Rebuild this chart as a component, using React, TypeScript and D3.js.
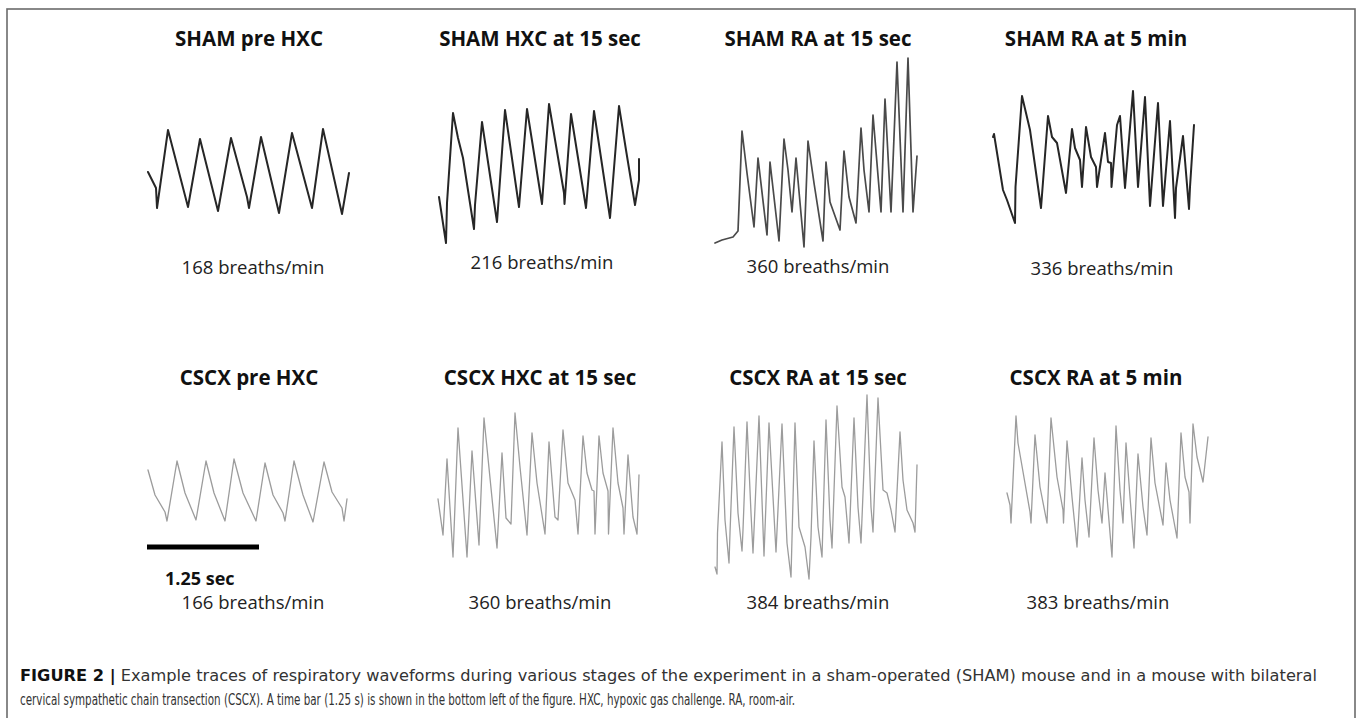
import React from "react";
import * as d3 from "d3";

type Pt = [number, number];

// time (arb. units) , amplitude (arb. units)
const shamPre: Pt[] = [[8,78],[16,62],[17,42],[28,120],[48,43],[60,111],[78,39],[91,112],[107,53],[109,42],[121,113],[139,37],[152,117],[172,42],[183,121],[202,36],[209,77]];
const shamHxc: Pt[] = [[9,53],[16,7],[17,47],[23,137],[28,112],[33,92],[44,21],[45,45],[52,128],[67,28],[75,140],[89,43],[97,141],[112,46],[119,146],[134,57],[134.5,46],[141,136],[156,42],[164,139],[180,32],[189,144],[196,100],[205,45],[209,70],[209,91]];
const shamRa15: Pt[] = [[10,7],[17,10],[28,13],[33,19],[37,119],[42,77],[49,23],[53,92],[62,15],[65,88],[74,9],[79,111],[83,80],[87,38],[91,92],[99,3],[103,109],[109,67],[118,9],[121,88],[125,48],[135,20],[139,99],[144,53],[151,27],[156,122],[159,80],[164,38],[168,135],[176,38],[180,151],[186,38],[192,188],[198,38],[203,192],[208,38],[212,94]];
const shamRa5: Pt[] = [[8,113],[9,116],[18,60],[22,50],[30,27],[30.5,63],[37,154],[45,120],[56,42],[63,134],[67,113],[72,107],[81,57],[87,121],[90,102],[95,90],[97,63],[101,123],[106,93],[111,83],[112,63],[120,117],[123,88],[126,87],[126.5,63],[132,125],[135,134],[140,62],[148,159],[153,63],[160,153],[165,44],[173,147],[178,44],[185,129],[190,32],[191,62],[198,114],[204,41],[205,63],[209,125]];
const cscxPre: Pt[] = [[8,120],[15,95],[25,78],[27,69],[37,129],[45,97],[56,70],[66,129],[74,97],[85,69],[94,131],[103,97],[116,69],[125,127],[133,95],[143,77],[145,69],[154,129],[163,95],[173,68],[184,128],[192,98],[202,82],[204,69],[207,91]];
const cscxHxc: Pt[] = [[8,91],[13,55],[17,131],[23,33],[28,162],[37,33],[42,139],[49,45],[54,172],[67,42],[72,137],[76,72],[81,66],[85,177],[90,123],[97,55],[102,157],[107,107],[115,56],[119,148],[125,73],[128,70],[133,160],[138,107],[145,90],[148,56],[153,154],[157,117],[162,100],[164,99],[165,56],[169,154],[173,117],[178,99],[178.5,56],[183,162],[188,107],[193,82],[194,56],[198,135],[203,73],[207,56],[209,115]];
const cscxRa15: Pt[] = [[10,23],[12,16],[12.5,57],[17,148],[20,70],[24,27],[25,57],[29,163],[33,77],[37,39],[38,60],[42,168],[46,77],[48,37],[54,174],[59,34],[64,167],[71,38],[77,166],[82,47],[86,13],[90,167],[94,63],[100,43],[104,11],[106,53],[109,149],[113,63],[117,33],[121,170],[125,70],[127,42],[132,184],[137,103],[140,93],[144,47],[149,172],[153,83],[156,47],[162,195],[166,83],[168,58],[173,192],[178,100],[182,97],[186,80],[190,58],[195,158],[198,110],[202,80],[208,67],[210,58],[212,125]];
const cscxRa5: Pt[] = [[22,97],[25,85],[26,67],[31,174],[33,147],[45,78],[46,67],[50,155],[55,103],[62,67],[66,172],[72,113],[78,80],[78.5,67],[82,149],[87,93],[92,43],[97,132],[100,90],[104,53],[109,152],[113,100],[117,67],[120,117],[127,33],[131,164],[135,100],[138,67],[141,147],[145,93],[149,42],[153,136],[158,83],[162,55],[166,152],[170,107],[178,65],[181,127],[185,90],[192,52],[196,157],[200,113],[204,98],[205,67],[208,166],[212,133],[218,108],[223,153]];

const titles = ["SHAM pre HXC","SHAM HXC at 15 sec","SHAM RA at 15 sec","SHAM RA at 5 min","CSCX pre HXC","CSCX HXC at 15 sec","CSCX RA at 15 sec","CSCX RA at 5 min"];
const rates = ["168 breaths/min","216 breaths/min","360 breaths/min","336 breaths/min","166 breaths/min","360 breaths/min","384 breaths/min","383 breaths/min"];
const traces = [shamPre, shamHxc, shamRa15, shamRa5, cscxPre, cscxHxc, cscxRa15, cscxRa5];
const scaleBarSeconds = 1.25;

const W = 1357, H = 718;
const colLeft = [140, 430, 705, 985];
const titleX = [249, 540, 818, 1096];
const rateX = [253, 542, 818, 1102, 253, 540, 818, 1098];
const rateY = [274, 269, 273, 275, 609, 609, 609, 609];
const rowBase = [250, 590];
const rowTitleY = [46, 385];

export default function App() {
  const captionFont = "'Liberation Sans Narrow','DejaVu Sans Condensed','Arial Narrow','Liberation Sans',sans-serif";
  const labelFont = "'Open Sans','Noto Sans',sans-serif";
  const pxPerSec = 112 / 1.25;
  const barScale = d3.scaleLinear().domain([0, scaleBarSeconds]).range([147, 147 + scaleBarSeconds * pxPerSec]);
  return (
    <svg width={W} height={H} style={{ position: "absolute", left: 0, top: 0, background: "#fff" }}>
      <rect x={0} y={0} width={W} height={H} fill="#fff" />
      <rect x={7} y={9} width={1348} height={740} fill="none" stroke="#6b6b6b" strokeWidth={1.6} />
      {traces.map((tr, i) => {
        const row = i < 4 ? 0 : 1;
        const col = i % 4;
        const x = d3.scaleLinear().domain([0, 240]).range([colLeft[col], colLeft[col] + 240]);
        const y = d3.scaleLinear().domain([0, 200]).range([rowBase[row], rowBase[row] - 200]);
        const line = d3.line<Pt>().x(d => x(d[0])).y(d => y(d[1]));
        const stroke = row === 0 ? (i === 2 ? "#4a4a4a" : "#262626") : "#9c9c9c";
        const sw = row === 0 ? (i === 2 ? 1.7 : 2) : 1.3;
        return (
          <g key={i}>
            <text x={titleX[col]} y={rowTitleY[row]} textAnchor="middle" fontFamily={labelFont} fontWeight={700} fontSize={20.5} fill="#111">{titles[i]}</text>
            <path d={line(tr) || ""} fill="none" stroke={stroke} strokeWidth={sw} strokeLinejoin="round" strokeLinecap="round" />
            <text x={rateX[i]} y={rateY[i]} textAnchor="middle" fontFamily={labelFont} fontSize={18.5} fill="#222">{rates[i]}</text>
          </g>
        );
      })}
      <line x1={barScale(0)} x2={barScale(scaleBarSeconds)} y1={547} y2={547} stroke="#000" strokeWidth={5} />
      <text x={165} y={585} fontFamily={labelFont} fontWeight={700} fontSize={18} fill="#111">1.25 sec</text>
      <text x={20} y={681} fontFamily={captionFont} fontStretch="condensed" fontSize={15.5} fill="#333" textLength={1297} lengthAdjust="spacingAndGlyphs">
        <tspan fontWeight={700} fill="#111">FIGURE 2 |</tspan>
        <tspan> Example traces of respiratory waveforms during various stages of the experiment in a sham-operated (SHAM) mouse and in a mouse with bilateral</tspan>
      </text>
      <text x={20} y={705} fontFamily={captionFont} fontStretch="condensed" fontSize={15.5} fill="#333" textLength={775} lengthAdjust="spacingAndGlyphs">
        cervical sympathetic chain transection (CSCX). A time bar (1.25 s) is shown in the bottom left of the figure. HXC, hypoxic gas challenge. RA, room-air.
      </text>
    </svg>
  );
}
